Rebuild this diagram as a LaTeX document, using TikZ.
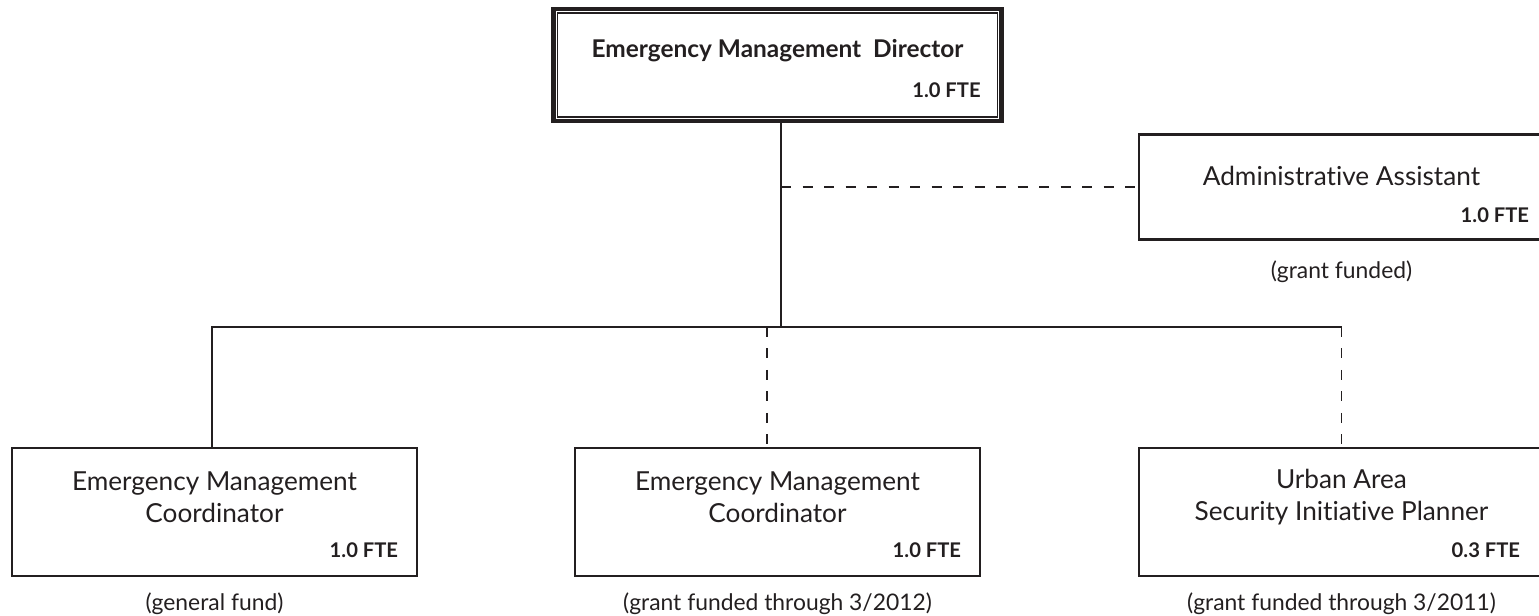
\documentclass[tikz,border=0pt]{standalone}
\usepackage{fontspec}
\setmainfont{Lato}[Ligatures={NoCommon,NoRare}]
\usetikzlibrary{calc,positioning}
\definecolor{ink}{HTML}{231F20}

\begin{document}
\begin{tikzpicture}
\tikzstyle{box}=[draw=ink,line width=1.6pt,minimum width=8.1cm,minimum height=2.56cm,inner sep=0pt]
\tikzstyle{title}=[text=ink,align=center,font=\fontsize{14.9}{18.2}\selectfont,inner sep=0pt]
\tikzstyle{fte}=[text=ink,font=\fontsize{11.5}{13}\selectfont\bfseries,inner sep=0pt]
\tikzstyle{fund}=[text=ink,font=\fontsize{13}{15}\selectfont,inner sep=0pt]
\tikzstyle{link}=[draw=ink,line width=1.1pt]
\tikzstyle{dotted link}=[link,dash pattern=on 0.2cm off 0.23cm]

\useasboundingbox (0,0) rectangle (30.78,12.3);

% director
\node (dir) [draw=ink,line width=2.8pt,minimum width=8.96cm,minimum height=2.24cm] at (15.55,11.0) {};
\draw [ink,line width=0.9pt] ($(dir.north west)+(0.13,-0.13)$) rectangle ($(dir.south east)+(-0.13,0.13)$);
\node (dirt) [title,font=\fontsize{13.9}{16}\selectfont\bfseries] at ($(dir.center)+(0,0.28)$) {Emergency Management\ \ Director};
\node (dirf) [fte,anchor=east] at ($(dir.east)+(-0.46,-0.5)$) {1.0 FTE};

% admin
\node (adm) [box,minimum height=2.1cm] at (26.83,8.56) {};
\node (admt) [title] at ($(adm.center)+(0,0.22)$) {Administrative Assistant};
\node (admf) [fte,anchor=east] at ($(adm.east)+(-0.32,-0.56)$) {1.0 FTE};
\node (admg) [fund,below=0.4cm of adm] {(grant funded)};

% staff
\node (c1) [box] at (4.29,2.06) {};
\node (c2) [box] at (15.55,2.06) {};
\node (c3) [box] at (26.83,2.06) {};

\node (c1t) [title] at ($(c1.center)+(0,0.3)$) {Emergency Management\\Coordinator};
\node (c2t) [title] at ($(c2.center)+(0,0.3)$) {Emergency Management\\Coordinator};
\node (c3t) [title] at ($(c3.center)+(0,0.3)$) {Urban Area\\Security Initiative Planner};

\node (c1f) [fte,anchor=east] at ($(c1.east)+(-0.4,-0.76)$) {1.0 FTE};
\node (c2f) [fte,anchor=east] at ($(c2.east)+(-0.4,-0.76)$) {1.0 FTE};
\node (c3f) [fte,anchor=east] at ($(c3.east)+(-0.5,-0.76)$) {0.3 FTE};

\node (c1g) [fund,below=0.3cm of c1] {(general fund)};
\node (c2g) [fund,below=0.3cm of c2] {(grant funded through 3/2012)};
\node (c3g) [fund,below=0.3cm of c3] {(grant funded through 3/2011)};

%\draw [help lines] (0,0) grid (30,12);

% lines
\coordinate (jn) at (15.62,5.76);
\draw [link] (dir.south -| jn) -- (jn);
\draw [dotted link] (jn |- adm.west) -- (adm.west);
\draw [link] ([xshift=-0.05cm]c1.north) -- ([xshift=-0.05cm]c1.north |- jn) -- (c3.north |- jn);
\draw [dotted link] ([xshift=-0.21cm]c2.north |- jn) -- ([xshift=-0.21cm]c2.north);
\draw [dotted link] (c3.north |- jn) -- (c3.north);

\end{tikzpicture}
\end{document}
